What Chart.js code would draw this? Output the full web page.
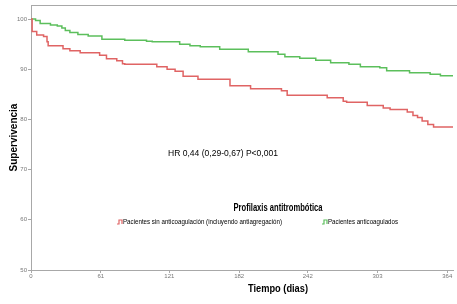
<!DOCTYPE html>
<html><head><meta charset="utf-8">
<script src="https://cdn.jsdelivr.net/npm/chart.js@4"></script>
<style>html,body{margin:0;padding:0;background:#fff}#wrap{width:457px;height:304px;position:relative}</style>
</head><body><div id="wrap"><canvas id="c" width="457" height="304"></canvas></div>
<script>
const redDays  = [0,1,5,11,14,15,28,34,43,60,66,75,80,82,110,119,126,133,146,174,192,219,224,259,273,276,294,308,314,329,334,338,342,347,352,369];
const redSurv  = [100,97.5,96.8,96.5,95.5,94.7,94.1,93.7,93.3,92.8,92.1,91.7,91.1,91.0,90.5,90.0,89.6,88.6,88.0,86.7,86.1,85.7,84.8,84.3,83.6,83.4,82.8,82.3,82.0,81.5,80.8,80.4,79.7,79.0,78.5,78.5];
const greenDays = [0,4,8,17,23,27,30,34,41,50,62,82,101,106,113,130,139,148,165,190,216,222,235,249,262,278,288,305,311,331,349,358,369];
const greenSurv = [100,99.7,99.1,98.8,98.6,98.2,97.7,97.3,96.9,96.6,96.0,95.8,95.6,95.5,95.5,95.0,94.7,94.5,94.0,93.5,93.0,92.5,92.2,91.8,91.3,91.0,90.5,90.3,89.7,89.3,89.0,88.7,88.6];
const xTicks = [0,61,121,182,242,303,364];
const yTicks = [50,60,70,80,90,100];
const seriesNames = ['Pacientes sin anticoagulación (incluyendo antiagregación)','Pacientes anticoagulados'];
const legendTitle = 'Profilaxis antitrombótica';
const annotation = 'HR 0,44 (0,29-0,67) P<0,001';
const xTitle = 'Tiempo (dias)';
const yTitle = 'Supervivencia';

const RED = '#e06464', GREEN = '#5cbf5c', AXIS = '#a8a8a8';
const SANS = "'Liberation Sans',Arial,sans-serif";

const toPts = (xs, ys) => xs.map((x, i) => ({x, y: ys[i]}));

const overlay = {
  id: 'overlay',
  afterDraw(chart) {
    const ctx = chart.ctx, a = chart.chartArea;
    ctx.save();
    ctx.strokeStyle = AXIS; ctx.lineWidth = 1;
    ctx.beginPath(); ctx.moveTo(a.left, a.top + 0.5); ctx.lineTo(457, a.top + 0.5); ctx.stroke();
    ctx.fillStyle = '#000';
    ctx.textBaseline = 'middle';
    ctx.font = '9px ' + SANS; ctx.textAlign = 'left';
    ctx.fillText(annotation, 168, 154, 110);
    ctx.font = 'bold 11px ' + SANS; ctx.textAlign = 'center';
    ctx.fillText(legendTitle, 278, 208, 89);
    const items = [{x:117, color:RED, text:seriesNames[0], w:159}, {x:322, color:GREEN, text:seriesNames[1], w:70}];
    ctx.font = '8px ' + SANS; ctx.textAlign = 'left';
    items.forEach(it => {
      const y = 222;
      ctx.strokeStyle = it.color; ctx.lineWidth = 1.2;
      ctx.beginPath();
      ctx.moveTo(it.x, y + 2); ctx.lineTo(it.x + 2, y + 2); ctx.lineTo(it.x + 2, y - 2);
      ctx.lineTo(it.x + 5, y - 2); ctx.lineTo(it.x + 5, y + 2);
      ctx.stroke();
      ctx.fillStyle = '#000';
      ctx.fillText(it.text, it.x + 6, y, it.w);
    });
    ctx.font = 'bold 11px ' + SANS; ctx.textAlign = 'center';
    ctx.fillText(xTitle, 278, 289, 60);
    ctx.restore();
  }
};

new Chart(document.getElementById('c'), {
  type: 'line',
  data: {
    datasets: [
      {label: seriesNames[0], data: toPts(redDays, redSurv), borderColor: RED, borderWidth: 1.5, pointRadius: 0, stepped: true, fill: false},
      {label: seriesNames[1], data: toPts(greenDays, greenSurv), borderColor: GREEN, borderWidth: 1.5, pointRadius: 0, stepped: true, fill: false}
    ]
  },
  options: {
    responsive: false, animation: false,
    layout: {padding: {top: 5, right: 4, left: 0, bottom: 0}},
    plugins: {legend: {display: false}, tooltip: {enabled: false}},
    scales: {
      x: {
        type: 'linear', min: 0, max: 369,
        afterBuildTicks: s => { s.ticks = xTicks.map(v => ({value: v})); },
        afterFit: s => { s.height = 34; },
        grid: {drawOnChartArea: false, tickLength: 3, color: AXIS},
        border: {color: AXIS},
        ticks: {font: {size: 6, family: SANS}, color: '#777', padding: 0, maxRotation: 0, autoSkip: false}
      },
      y: {
        type: 'linear', min: 50, max: 102.8,
        afterBuildTicks: s => { s.ticks = yTicks.map(v => ({value: v})); },
        afterFit: s => { s.width = 31; },
        grid: {drawOnChartArea: false, tickLength: 3, color: AXIS},
        border: {color: AXIS},
        ticks: {font: {size: 6, family: SANS}, color: '#777', padding: 1},
        title: {display: true, text: yTitle, font: {size: 10, weight: 'bold', family: SANS}, color: '#000', padding: {top: 8, bottom: 0}}
      }
    }
  },
  plugins: [overlay]
});
</script></body></html>
